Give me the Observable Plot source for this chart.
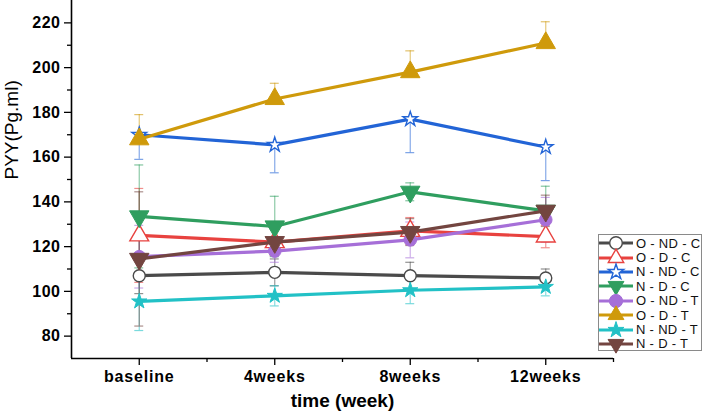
<!DOCTYPE html>
<html>
<head>
<meta charset="utf-8">
<script src="https://cdn.jsdelivr.net/npm/d3@7"></script>
<script src="https://cdn.jsdelivr.net/npm/@observablehq/plot@0.6"></script>
<style>
  body { margin: 0; background: white; }
  #wrap { position: relative; width: 706px; height: 416px; font-family: "Liberation Sans", Arial, sans-serif; }
  #wrap svg text { font-family: "Liberation Sans", Arial, sans-serif; }
  g[aria-label="y-axis tick label"] { font-size: 16px; font-weight: bold; letter-spacing: 0.5px; }
  g[aria-label="x-axis tick label"] { font-size: 16px; font-weight: bold; letter-spacing: 0.8px; }
  #legend { position: absolute; left: 598px; top: 234px; width: 104px; height: 117px; border: 1px solid #8a8a8a; background: white; box-sizing: border-box; padding-top: 1px; }
  #legend .row { display: flex; align-items: center; height: 14.4px; }
  #legend .row span { font-size: 13px; color: #111; margin-left: 3px; white-space: nowrap; letter-spacing: 0.3px; }
</style>
</head>
<body>
<div id="wrap"><div id="legend"></div></div>
<script>
// ---- data ----
const weeks = ["baseline", "4weeks", "8weeks", "12weeks"];
const groups = ["O - ND - C", "O - D - C", "N - ND - C", "N - D - C", "O - ND - T", "O - D - T", "N - ND - T", "N - D - T"];
const yTicks = [80, 100, 120, 140, 160, 180, 200, 220];

const oNDC = [107, 108.5, 107, 106];
const oDC = [125, 122, 127, 124.5];
const nNDC = [170, 165.5, 177, 164.5];
const nDC = [133.5, 129, 144.5, 136];
const oNDT = [115.5, 118, 123, 132];
const oDT = [168, 186, 198, 211];
const nNDT = [95.5, 98, 100.5, 102];
const nDT = [114.5, 122, 126.5, 136];

const oNDC_err = [8, 6, 6, 4];
const oDC_err = [21, 6, 6, 5];
const nNDC_err = [11, 12.5, 15, 15];
const nDC_err = [23, 13.5, 4, 11];
const oNDT_err = [14, 5, 8, 10];
const oDT_err = [11, 7, 9.5, 9.5];
const nNDT_err = [13, 4.5, 6, 4];
const nDT_err = [30, 6, 6, 7];
// error bar direction: 0 = both, 1 = plus only, -1 = minus only
const errDir = [0, 0, -1, 0, 0, 1, 0, 0];

const values = [oNDC, oDC, nNDC, nDC, oNDT, oDT, nNDT, nDT];
const errors = [oNDC_err, oDC_err, nNDC_err, nDC_err, oNDT_err, oDT_err, nNDT_err, nDT_err];

// ---- styles ----
const colors = ["#4a4a4a", "#e8423f", "#2264d6", "#2f9e5f", "#a66fd8", "#cf9a0b", "#22c1c6", "#734540"];
const symbols = ["circle", "triangle", "star", "triangle", "circle", "triangle", "star", "triangle"];
const hollow = [true, true, true, false, false, false, false, false];
const rotations = [0, 0, 0, 180, 0, 0, 0, 180];
const radii = [6, 7, 4.6, 7.2, 6.3, 7.2, 4.8, 7.2];

const rows = groups.flatMap((g, k) => values[k].map((v, i) => {
  const e = errors[k][i];
  return {
    g, k, i, v,
    lo: errDir[k] === 1 ? v : v - e,
    hi: errDir[k] === -1 ? v : v + e,
    hasLo: errDir[k] !== 1,
    hasHi: errDir[k] !== -1
  };
}));

const capHalf = 0.033;
const marks = [];

// error bars (under lines)
groups.forEach((g, k) => {
  const d = rows.filter(r => r.k === k);
  marks.push(Plot.ruleX(d, {x: "i", y1: "lo", y2: "hi", stroke: colors[k], strokeOpacity: 0.55, strokeWidth: 1.2}));
  marks.push(Plot.ruleY(d.filter(r => r.hasHi), {y: "hi", x1: r => r.i - capHalf, x2: r => r.i + capHalf, stroke: colors[k], strokeOpacity: 0.6, strokeWidth: 1.2}));
  marks.push(Plot.ruleY(d.filter(r => r.hasLo), {y: "lo", x1: r => r.i - capHalf, x2: r => r.i + capHalf, stroke: colors[k], strokeOpacity: 0.6, strokeWidth: 1.2}));
});

// lines + markers
groups.forEach((g, k) => {
  const d = rows.filter(r => r.k === k);
  marks.push(Plot.line(d, {x: "i", y: "v", stroke: colors[k], strokeWidth: 3.2}));
  marks.push(Plot.dot(d, {
    x: "i", y: "v", symbol: symbols[k], r: radii[k], rotate: rotations[k],
    fill: hollow[k] ? "white" : colors[k], stroke: colors[k], strokeWidth: hollow[k] ? 1.4 : 1
  }));
});

// axes
marks.push(Plot.axisY({ticks: yTicks, tickSize: 7, tickPadding: 4, tickFormat: d => d, label: null, stroke: "black", strokeWidth: 1.3}));
marks.push(Plot.axisY({ticks: d3.range(90, 230, 20), tickSize: 4, tickFormat: () => "", label: null, stroke: "black", strokeWidth: 1.3}));
marks.push(Plot.axisX({ticks: [0, 1, 2, 3], tickSize: 7, tickPadding: 5, tickFormat: i => weeks[i], label: null, stroke: "black", strokeWidth: 1.3}));
marks.push(Plot.axisX({ticks: [0.5, 1.5, 2.5, 3.5], tickSize: 4, tickFormat: () => "", label: null, stroke: "black", strokeWidth: 1.3}));
marks.push(Plot.ruleX([-0.5], {stroke: "black", strokeWidth: 1.6}));
marks.push(Plot.ruleY([70], {stroke: "black", strokeWidth: 1.6}));
marks.push(Plot.text(["time (week)"], {frameAnchor: "bottom", dy: 48, text: d => d, fontSize: 19, fontWeight: "bold", fill: "black"}));
marks.push(Plot.text(["PYY(Pg.ml)"], {frameAnchor: "left", dx: -60, rotate: -90, text: d => d, fontSize: 19, fill: "black"}));

const chart = Plot.plot({
  width: 706, height: 416,
  marginLeft: 71, marginRight: 93, marginTop: 0, marginBottom: 58,
  x: {domain: [-0.5, 3.5], axis: null, label: null},
  y: {domain: [70, 230], axis: null, label: null},
  style: {background: "white", color: "black", fontFamily: "'Liberation Sans', Arial, sans-serif", overflow: "visible"},
  marks
});
document.getElementById("wrap").prepend(chart);

// legend
const legend = d3.select("#legend");
const symMap = {circle: d3.symbolCircle, triangle: d3.symbolTriangle2, star: d3.symbolStar};
groups.forEach((g, k) => {
  const row = legend.append("div").attr("class", "row");
  const svg = row.append("svg").attr("width", 34).attr("height", 14).style("overflow", "visible");
  svg.append("line").attr("x1", 0).attr("x2", 34).attr("y1", 7).attr("y2", 7)
    .attr("stroke", colors[k]).attr("stroke-width", 3.2);
  const r = radii[k] * 1.05;
  svg.append("path")
    .attr("d", d3.symbol(symMap[symbols[k]], Math.PI * r * r)())
    .attr("transform", `translate(17,7) rotate(${rotations[k]})`)
    .attr("fill", hollow[k] ? "white" : colors[k])
    .attr("stroke", colors[k]).attr("stroke-width", hollow[k] ? 1.4 : 1);
  row.append("span").text(g);
});
</script>
</body>
</html>
